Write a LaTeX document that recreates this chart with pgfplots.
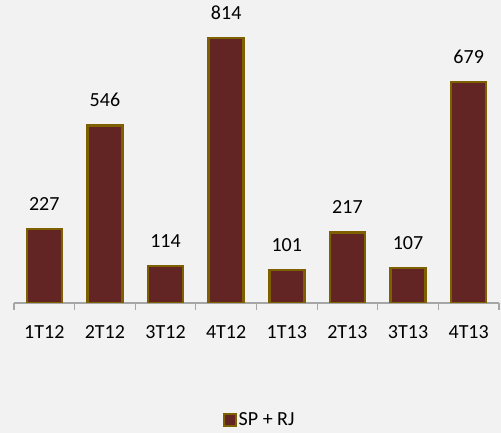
\documentclass[border=0pt]{standalone}
\usepackage{pgfplots}
\pgfplotsset{compat=1.18}
\usepackage{fontspec}
\setmainfont{Carlito}
\definecolor{bg}{HTML}{F2F2F2}
\definecolor{barfill}{HTML}{632523}
\definecolor{barline}{HTML}{7F6000}
\definecolor{axgray}{HTML}{A6A6A6}
\begin{document}
\begin{tikzpicture}
\fill[bg] (-14pt,-130pt) rectangle (487pt,303pt);
\useasboundingbox (-14pt,-130pt) rectangle (487pt,303pt);
\begin{axis}[
  at={(0pt,0pt)}, anchor=south west,
  scale only axis, width=485pt, height=303pt,
  ymin=0, ymax=931, xmin=-0.5, xmax=7.5,
  axis x line*=bottom, axis y line=none,
  x axis line style={draw=axgray, line width=1.2pt, -},
  xtick={-0.5,0.5,...,7.5},
  x tick label as interval,
  xticklabels={1T12,2T12,3T12,4T12,1T13,2T13,3T13,4T13},
  major tick length=7pt,
  tick style={draw=axgray, line width=1.2pt},
  xtick pos=bottom, tick align=outside,
  /pgf/number format/assume math mode=true,
  xticklabel style={font=\fontsize{20}{24}\selectfont, yshift=-12pt},
  ybar, bar width=35pt,
  nodes near coords,
  nodes near coords style={font=\fontsize{20}{24}\selectfont, yshift=14pt},
  legend style={at={(0.5,0)}, anchor=center, yshift=-117pt, xshift=3pt, draw=none, fill=none,
    font=\fontsize{20}{24}\selectfont, inner sep=0pt},
  legend cell align=left,
]
\addplot[fill=barfill, draw=barline, line width=2.5pt,
  legend image code/.code={\draw[fill=barfill,draw=barline,line width=2.2pt] (0pt,-6pt) rectangle (12pt,6pt);}] coordinates {
(0,227) (1,546) (2,114) (3,814) (4,101) (5,217) (6,107) (7,679)};
\addlegendentry{SP + RJ}
\end{axis}
\end{tikzpicture}
\end{document}
